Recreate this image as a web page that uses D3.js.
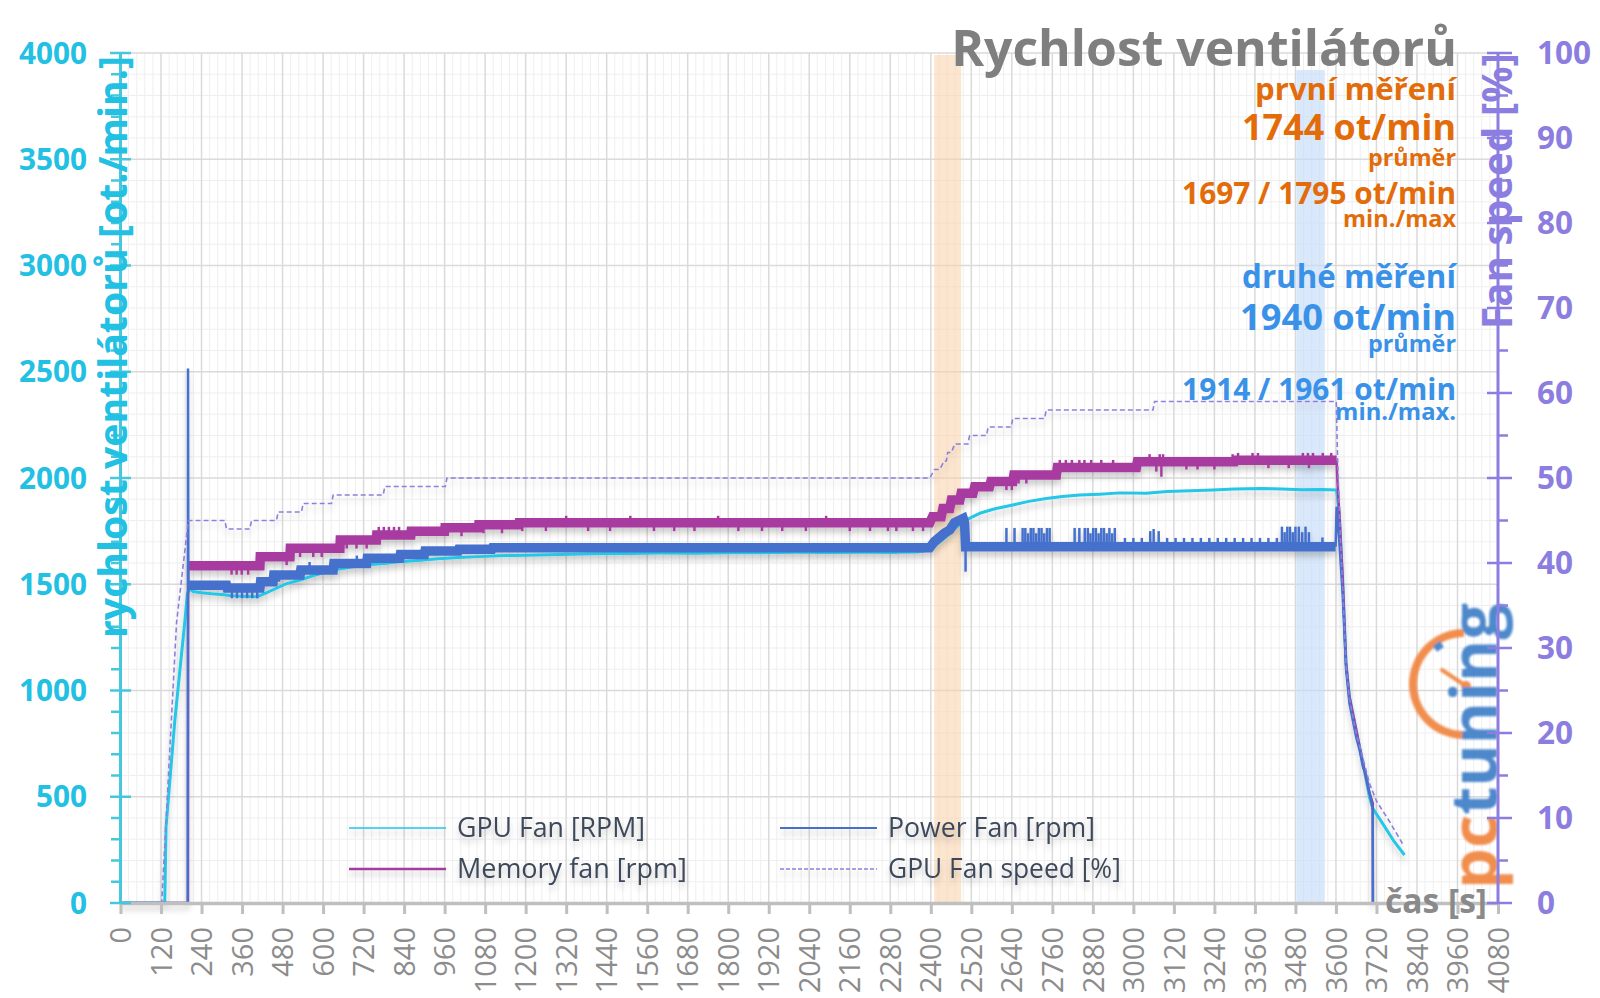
<!DOCTYPE html>
<html><head><meta charset="utf-8">
<script src="https://cdn.jsdelivr.net/npm/d3@7"></script>
<style>body{margin:0;background:#fff}svg{display:block}</style>
</head><body>
<svg id="c" width="1600" height="998"></svg>
<script>
// ---------------- DATA ----------------
const xTicks = d3.range(0, 4081, 120);
const yTicksLeft = [0, 500, 1000, 1500, 2000, 2500, 3000, 3500, 4000];
const yTicksRight = [0, 10, 20, 30, 40, 50, 60, 70, 80, 90, 100];
const seriesNames = ["GPU Fan [RPM]", "Memory fan [rpm]", "Power Fan [rpm]", "GPU Fan speed [%]"];
const bandOrange = [2410, 2490];
const bandBlue = [3483, 3567];

// GPU Fan [RPM]  [time s, rpm]
const gpuFan = [[0,0],[131,0],[135,359],[161,861],[191,1332],[198,1455],[205,1478],[215,1466],[240,1460],[270,1455],[300,1452],[330,1446],[360,1444],[404,1441],[430,1458],[460,1480],[490,1502],[532,1520],[580,1545],[629,1567],[680,1580],[730,1592],[780,1598],[827,1606],[880,1612],[940,1620],[1000,1626],[1060,1630],[1120,1634],[1200,1637],[1300,1640],[1400,1643],[1500,1645],[1600,1647],[1700,1646],[1800,1648],[1900,1648],[2000,1650],[2100,1649],[2200,1651],[2300,1650],[2362,1652],[2397,1661],[2420,1690],[2446,1724],[2470,1760],[2495,1794],[2520,1815],[2545,1834],[2590,1855],[2643,1873],[2690,1890],[2742,1904],[2790,1913],[2841,1920],[2900,1924],[2960,1930],[3038,1928],[3100,1936],[3170,1940],[3235,1944],[3300,1948],[3383,1951],[3440,1948],[3500,1945],[3560,1946],[3600,1944],[3602,1943],[3610,1834],[3620,1520],[3630,1128],[3640,971],[3660,814],[3680,657],[3699,500],[3709,445],[3740,370],[3770,295],[3803,226]];

// Memory fan [rpm]: start, oscillating plateau (band centre), run-down
const memStart = [[0,0],[200,0],[200.5,1587]];
const memFan = [[200.5,1587],[413,1587],[414,1630],[502,1630],[503,1669],[650,1669],[651,1708],[758,1708],[759,1732],[860,1732],[861,1750],[960,1750],[961,1766],[1060,1766],[1061,1780],[1180,1780],[1181,1790],[2397,1790],[2405,1818],[2431,1818],[2436,1857],[2456,1857],[2461,1896],[2486,1896],[2490,1928],[2525,1928],[2530,1959],[2574,1959],[2578,1983],[2643,1983],[2646,2014],[2772,2014],[2775,2050],[3009,2050],[3012,2077],[3300,2077],[3302,2083],[3602,2083]];
const memDrop = [[3602,2083],[3604,2000],[3610,1834],[3620,1520],[3630,1128],[3640,971],[3660,814],[3680,657],[3699,520],[3709,470],[3709.5,0],[3712,0]];
// spikes of the memory fan band [time, from, to]
const memSpikes = [[329,1587,1545],[344,1587,1545],[359,1587,1545],[378,1587,1545],[492,1630,1590],[532,1669,1628],[571,1669,1628],[596,1669,1628],[670,1708,1668],[699,1708,1668],[729,1708,1668],[765,1732,1770],[780,1732,1770],[795,1732,1770],[810,1732,1770],[825,1732,1770],[1010,1766,1726],[1075,1780,1740],[1130,1780,1740],[1190,1790,1750],[1260,1790,1750],[1320,1790,1822],[1385,1790,1750],[1450,1790,1750],[1510,1790,1822],[1580,1790,1750],[1640,1790,1750],[1700,1790,1750],[1770,1790,1822],[1830,1790,1750],[1900,1790,1750],[1960,1790,1750],[2030,1790,1750],[2090,1790,1822],[2160,1790,1750],[2220,1790,1750],[2273,1790,1750],[2298,1790,1750],[2347,1790,1750],[2377,1790,1750],[2624,1983,1943],[2640,1983,1943],[2660,2014,1974],[2683,2014,1974],[2782,2050,2085],[2800,2050,2085],[2818,2050,2085],[2840,2050,2085],[2855,2050,2085],[2875,2050,2085],[2905,2050,2085],[2940,2050,2085],[3048,2077,2112],[3068,2077,2030],[3078,2077,2112],[3083,2077,2006],[3088,2077,2112],[3157,2077,2040],[3190,2077,2040],[3240,2077,2040],[3294,2077,2112],[3310,2083,2118],[3353,2083,2118],[3369,2083,2118],[3400,2083,2046],[3460,2083,2046],[3502,2083,2118],[3517,2083,2118],[3520,2083,2046],[3532,2083,2118],[3561,2083,2118],[3586,2083,2118]];

// Power Fan [rpm]
const powerStart = [[0,0],[199,0],[200,2515],[201,1495]];
const powerFan = [[201,1495],[314,1495],[316,1482],[413,1482],[415,1512],[452,1512],[454,1544],[532,1544],[534,1567],[630,1567],[632,1598],[729,1598],[731,1622],[827,1622],[829,1640],[900,1640],[902,1656],[1000,1656],[1002,1665],[1100,1665],[1102,1672],[2397,1672],[2410,1700],[2440,1740],[2456,1755],[2470,1790],[2496,1810],[2500,1790],[2503,1677],[3599,1677]];
const powerDrop = [[3599,1677],[3602,1865],[3605,1800],[3610,1700],[3620,1450],[3630,1100],[3640,940],[3650,860],[3660,780],[3670,720],[3680,640],[3690,600],[3699,520],[3705,480],[3709,440],[3709.5,0],[3712,0]];
const powerSpikes = [[330,1482,1434],[345,1482,1434],[360,1482,1434],[375,1482,1434],[390,1482,1434],[405,1482,1434],[470,1512,1548],[560,1567,1605],[700,1598,1635],[2503,1677,1559],[2624,1677,1765],[2648,1677,1765],[2672,1677,1765],[2680,1677,1765],[2688,1677,1740],[2696,1677,1765],[2704,1677,1765],[2712,1677,1740],[2720,1677,1765],[2728,1677,1765],[2736,1677,1740],[2744,1677,1765],[2752,1677,1765],[2826,1677,1765],[2840,1677,1765],[2856,1677,1765],[2865,1677,1765],[2873,1677,1740],[2881,1677,1765],[2889,1677,1765],[2897,1677,1740],[2905,1677,1765],[2913,1677,1765],[2921,1677,1740],[2929,1677,1765],[2937,1677,1740],[2945,1677,1765],[2975,1677,1718],[3000,1677,1718],[3025,1677,1718],[3050,1677,1750],[3060,1677,1760],[3075,1677,1750],[3100,1677,1718],[3125,1677,1718],[3150,1677,1718],[3175,1677,1718],[3200,1677,1718],[3225,1677,1718],[3250,1677,1718],[3275,1677,1718],[3300,1677,1718],[3325,1677,1718],[3350,1677,1718],[3375,1677,1718],[3400,1677,1718],[3425,1677,1718],[3440,1677,1771],[3448,1677,1745],[3456,1677,1771],[3464,1677,1771],[3472,1677,1745],[3480,1677,1771],[3490,1677,1771],[3500,1677,1745],[3510,1677,1771],[3520,1677,1745],[3560,1677,1720]];

// GPU Fan speed [%]
const gpuFanSpeed = [[0,0],[122,0],[166,33],[201,45],[309,45],[314,44],[383,44],[388,45],[462,45],[467,46],[536,46],[541,47],[625,47],[630,48],[778,48],[783,49],[962,49],[967,50],[2397,50],[2411,51],[2426,51],[2440,52],[2446,52],[2450,53],[2461,53],[2471,54],[2510,54],[2515,55],[2565,55],[2570,56],[2638,56],[2643,57],[2737,57],[2742,58],[3058,58],[3063,59],[3601,59],[3605,52],[3612,44],[3620,37],[3630,28],[3640,24],[3660,20],[3680,17],[3700,14],[3720,12],[3760,9.5],[3797,7]];

// annotation texts
const noteFirst = ["první měření", "1744 ot/min", "průměr", "1697 / 1795 ot/min", "min./max"];
const noteSecond = ["druhé měření", "1940 ot/min", "průměr", "1914 / 1961 ot/min", "min./max."];

// ---------------- CHART ----------------
const FONT = "'Open Sans', 'DejaVu Sans', sans-serif";
const svg = d3.select("#c");
svg.append("rect").attr("width",1600).attr("height",998).attr("fill","#fff");
const defs = svg.append("defs");
const f = defs.append("filter").attr("id","sh").attr("x","-10%").attr("y","-10%").attr("width","120%").attr("height","130%");
f.append("feDropShadow").attr("dx",0).attr("dy",5).attr("stdDeviation",3).attr("flood-color","#000").attr("flood-opacity",0.2);
const fl = defs.append("filter").attr("id","logoBlur");
fl.append("feGaussianBlur").attr("stdDeviation",0.8);

const X0 = 120.5, X1 = 1498, Y0 = 903, Y1 = 53;
const x = d3.scaleLinear().domain([0,4080]).range([X0,X1]);
const y = d3.scaleLinear().domain([0,4000]).range([Y0,Y1]);
const y2 = d3.scaleLinear().domain([0,100]).range([Y0,Y1]);

function fit(sel, w){ const l = sel.node().getComputedTextLength(); sel.attr("font-size", parseFloat(sel.attr("font-size"))*w/l); return sel; }

// grid
const grid = svg.append("g");
grid.selectAll(".vm").data(d3.range(0,4081,24).filter(d=>d%120)).join("line")
  .attr("x1",d=>x(d)).attr("x2",d=>x(d)).attr("y1",Y1).attr("y2",Y0).attr("stroke","#efefef").attr("stroke-width",1);
grid.selectAll(".hm").data(d3.range(0,4001,100).filter(d=>d%500)).join("line")
  .attr("x1",X0).attr("x2",X1).attr("y1",d=>y(d)).attr("y2",d=>y(d)).attr("stroke","#efefef").attr("stroke-width",1);
grid.selectAll(".vM").data(xTicks).join("line")
  .attr("x1",d=>x(d)).attr("x2",d=>x(d)).attr("y1",Y1).attr("y2",Y0).attr("stroke","#dadada").attr("stroke-width",1.5);
grid.selectAll(".hM").data(yTicksLeft).join("line")
  .attr("x1",X0).attr("x2",X1).attr("y1",d=>y(d)).attr("y2",d=>y(d)).attr("stroke","#dadada").attr("stroke-width",1.5);

// bands
svg.append("rect").attr("x",x(bandOrange[0])).attr("width",x(bandOrange[1])-x(bandOrange[0]))
  .attr("y",Y1+2).attr("height",Y0-Y1-2).attr("fill","#fbd2a8").attr("opacity",0.55);
svg.append("rect").attr("x",x(bandBlue[0])).attr("width",x(bandBlue[1])-x(bandBlue[0]))
  .attr("y",70).attr("height",Y0-70).attr("fill","#c4dcf7").attr("opacity",0.65);

// logo (watermark)
const logo = svg.append("g").attr("filter","url(#logoBlur)").attr("opacity",0.92);
const gc = [1464,684];
logo.append("path").attr("transform",`translate(${gc})`)
  .attr("d", d3.arc().innerRadius(47).outerRadius(55).startAngle(Math.PI).endAngle(2*Math.PI)()).attr("fill","#f0853f");
logo.append("path").attr("transform",`translate(${gc})`)
  .attr("d", d3.arc().innerRadius(42).outerRadius(49).startAngle(Math.PI*1.78).endAngle(Math.PI*1.84)()).attr("fill","#3f7fc8");
logo.append("line").attr("x1",gc[0]+2).attr("y1",gc[1]+2).attr("x2",gc[0]-22).attr("y2",gc[1]-14)
  .attr("stroke","#f0853f").attr("stroke-width",4).attr("stroke-linecap","round");
logo.append("circle").attr("cx",gc[0]+2).attr("cy",gc[1]+2).attr("r",5).attr("fill","#f0853f");
const lt = logo.append("text").attr("transform","translate(1497,889) rotate(-90)")
  .attr("font-family",FONT).attr("font-weight",700).attr("font-size",50);
lt.append("tspan").attr("fill","#f0853f").text("pc");
lt.append("tspan").attr("fill","#3f7fc8").text("tuning");
fit(lt, 286);

// series
const line = d3.line().x(d=>x(d[0])).y(d=>y(d[1]));
const line2 = d3.line().x(d=>x(d[0])).y(d=>y2(d[1]));
const sg = svg.append("g").attr("filter","url(#sh)");
const C_GPU = "#25c6e6", C_MEM = "#a83a9f", C_POW = "#4570cc", C_PCT = "#8f7fdc";
sg.append("path").datum(gpuFan).attr("d",line).attr("fill","none").attr("stroke",C_GPU).attr("stroke-width",3).attr("stroke-linejoin","round");
sg.append("path").datum(memStart).attr("d",line).attr("fill","none").attr("stroke",C_MEM).attr("stroke-width",2.5);
sg.append("path").datum(memFan).attr("d",line).attr("fill","none").attr("stroke",C_MEM).attr("stroke-width",9.5);
sg.append("path").datum(memDrop).attr("d",line).attr("fill","none").attr("stroke",C_MEM).attr("stroke-width",2.5);
sg.selectAll(".ms").data(memSpikes).join("line").attr("x1",d=>x(d[0])).attr("x2",d=>x(d[0]))
  .attr("y1",d=>y(d[1])).attr("y2",d=>y(d[2])).attr("stroke",C_MEM).attr("stroke-width",2.5);
sg.append("path").datum(powerStart).attr("d",line).attr("fill","none").attr("stroke",C_POW).attr("stroke-width",2.5);
sg.append("path").datum(powerFan).attr("d",line).attr("fill","none").attr("stroke",C_POW).attr("stroke-width",9.5);
sg.append("path").datum(powerDrop).attr("d",line).attr("fill","none").attr("stroke",C_POW).attr("stroke-width",2.5);
sg.selectAll(".ps").data(powerSpikes).join("line").attr("x1",d=>x(d[0])).attr("x2",d=>x(d[0]))
  .attr("y1",d=>y(d[1])).attr("y2",d=>y(d[2])).attr("stroke",C_POW).attr("stroke-width",2.5);
sg.append("path").datum(gpuFanSpeed).attr("d",line2).attr("fill","none").attr("stroke",C_PCT).attr("stroke-width",1.6).attr("stroke-dasharray","5,3");

// x axis
const C_XL = "#8c8c8c";
const xa = svg.append("g").attr("transform",`translate(0,${Y0})`)
  .call(d3.axisBottom(x).tickValues(xTicks).tickSize(11).tickSizeOuter(0).tickFormat(d=>d));
xa.select(".domain").attr("stroke","#bfbfbf").attr("stroke-width",3.5);
xa.selectAll(".tick line").attr("stroke","#bfbfbf").attr("stroke-width",3);
xa.selectAll(".tick text").attr("transform","rotate(-90)").attr("x",-24).attr("y",0).attr("dy","0.35em")
  .attr("text-anchor","end").attr("fill",C_XL).attr("font-family",FONT).attr("font-size",29).attr("font-weight",400);

// left axis
const C_L = "#22c0e2", C_LA = "#45c7dd";
svg.append("line").attr("x1",X0).attr("x2",X0).attr("y1",Y1).attr("y2",Y0).attr("stroke",C_LA).attr("stroke-width",3);
svg.selectAll(".lmt").data(d3.range(0,4001,100).filter(d=>d%500)).join("line")
  .attr("x1",111).attr("x2",X0).attr("y1",d=>y(d)).attr("y2",d=>y(d)).attr("stroke",C_LA).attr("stroke-width",2.5);
svg.selectAll(".lMt").data(yTicksLeft).join("line")
  .attr("x1",110).attr("x2",131).attr("y1",d=>y(d)).attr("y2",d=>y(d)).attr("stroke",C_LA).attr("stroke-width",2.5);
const ll = svg.selectAll(".ll").data(yTicksLeft).join("text")
  .attr("x",87).attr("y",d=>y(d)).attr("dy","0.36em").attr("text-anchor","end")
  .attr("fill",C_L).attr("font-family",FONT).attr("font-weight",700).attr("font-size",28).text(d=>d);
{ const t = ll.filter(d=>d===4000); fit(t,68); ll.attr("font-size", t.attr("font-size")); }
fit(svg.append("text").attr("transform","translate(113,347) rotate(-90)").attr("dy","0.36em").attr("text-anchor","middle")
  .attr("fill",C_L).attr("font-family",FONT).attr("font-weight",700).attr("font-size",34)
  .text("rychlost ventilátorů [ot./min.]"), 582);

// right axis
const C_R = "#8c7de0";
svg.append("line").attr("x1",X1).attr("x2",X1).attr("y1",Y1).attr("y2",Y0).attr("stroke",C_R).attr("stroke-width",3);
svg.selectAll(".rmt").data(d3.range(5,100,10)).join("line")
  .attr("x1",X1).attr("x2",1508).attr("y1",d=>y2(d)).attr("y2",d=>y2(d)).attr("stroke",C_R).attr("stroke-width",2.5);
svg.selectAll(".rMt").data(yTicksRight).join("line")
  .attr("x1",1487).attr("x2",1512).attr("y1",d=>y2(d)).attr("y2",d=>y2(d)).attr("stroke",C_R).attr("stroke-width",2.5);
const rl = svg.selectAll(".rl").data(yTicksRight).join("text")
  .attr("x",1537).attr("y",d=>y2(d)).attr("dy","0.36em").attr("text-anchor","start")
  .attr("fill",C_R).attr("font-family",FONT).attr("font-weight",700).attr("font-size",28).text(d=>d);
{ const t = rl.filter(d=>d===100); fit(t,54); rl.attr("font-size", t.attr("font-size")); }
fit(svg.append("text").attr("transform","translate(1497,191) rotate(-90)").attr("dy","0.36em").attr("text-anchor","middle")
  .attr("fill",C_R).attr("font-family",FONT).attr("font-weight",700).attr("font-size",34)
  .text("Fan speed [%]"), 276);

// axis title x
fit(svg.append("text").attr("x",1385).attr("y",913).attr("fill","#8a8a8a").attr("font-family",FONT).attr("font-weight",700)
  .attr("font-size",30).text("čas [s]"), 102);

// chart title
fit(svg.append("text").attr("x",1457).attr("y",66).attr("text-anchor","end").attr("fill","#7f7f7f")
  .attr("font-family",FONT).attr("font-weight",700).attr("font-size",46).text("Rychlost ventilátorů"), 506);

// annotations
const noteLayout = [[100,201],[140,214],[166,88],[204,274],[227,113]];
const noteLayout2 = [[288,214],[330,216],[352,88],[400,274],[420,121]];
noteFirst.forEach((s,i)=>{
  fit(svg.append("text").attr("x",1456).attr("y",noteLayout[i][0]).attr("text-anchor","end").attr("fill","#e36c0a")
    .attr("font-family",FONT).attr("font-weight",700).attr("font-size",30).text(s), noteLayout[i][1]);
});
noteSecond.forEach((s,i)=>{
  fit(svg.append("text").attr("x",1456).attr("y",noteLayout2[i][0]).attr("text-anchor","end").attr("fill","#3a91e8")
    .attr("font-family",FONT).attr("font-weight",700).attr("font-size",30).text(s), noteLayout2[i][1]);
});

// legend
const lg = svg.append("g").attr("filter","url(#sh)");
const legItems = [
  {name:seriesNames[0], x:349, y:828, c:C_GPU, w:1.5, dash:null, tw:188},
  {name:seriesNames[1], x:349, y:869, c:C_MEM, w:2.5, dash:null, tw:230},
  {name:seriesNames[2], x:780, y:828, c:C_POW, w:2, dash:null, tw:207},
  {name:seriesNames[3], x:780, y:869, c:C_PCT, w:1.5, dash:"4,2", tw:233}
];
legItems.forEach(it=>{
  lg.append("line").attr("x1",it.x).attr("x2",it.x+97).attr("y1",it.y).attr("y2",it.y)
    .attr("stroke",it.c).attr("stroke-width",it.w).attr("stroke-dasharray",it.dash);
  fit(lg.append("text").attr("x",it.x+108).attr("y",it.y).attr("dy","0.35em").attr("fill","#3e4a5a")
    .attr("font-family",FONT).attr("font-weight",400).attr("font-size",25).text(it.name), it.tw);
});
</script>
</body></html>
